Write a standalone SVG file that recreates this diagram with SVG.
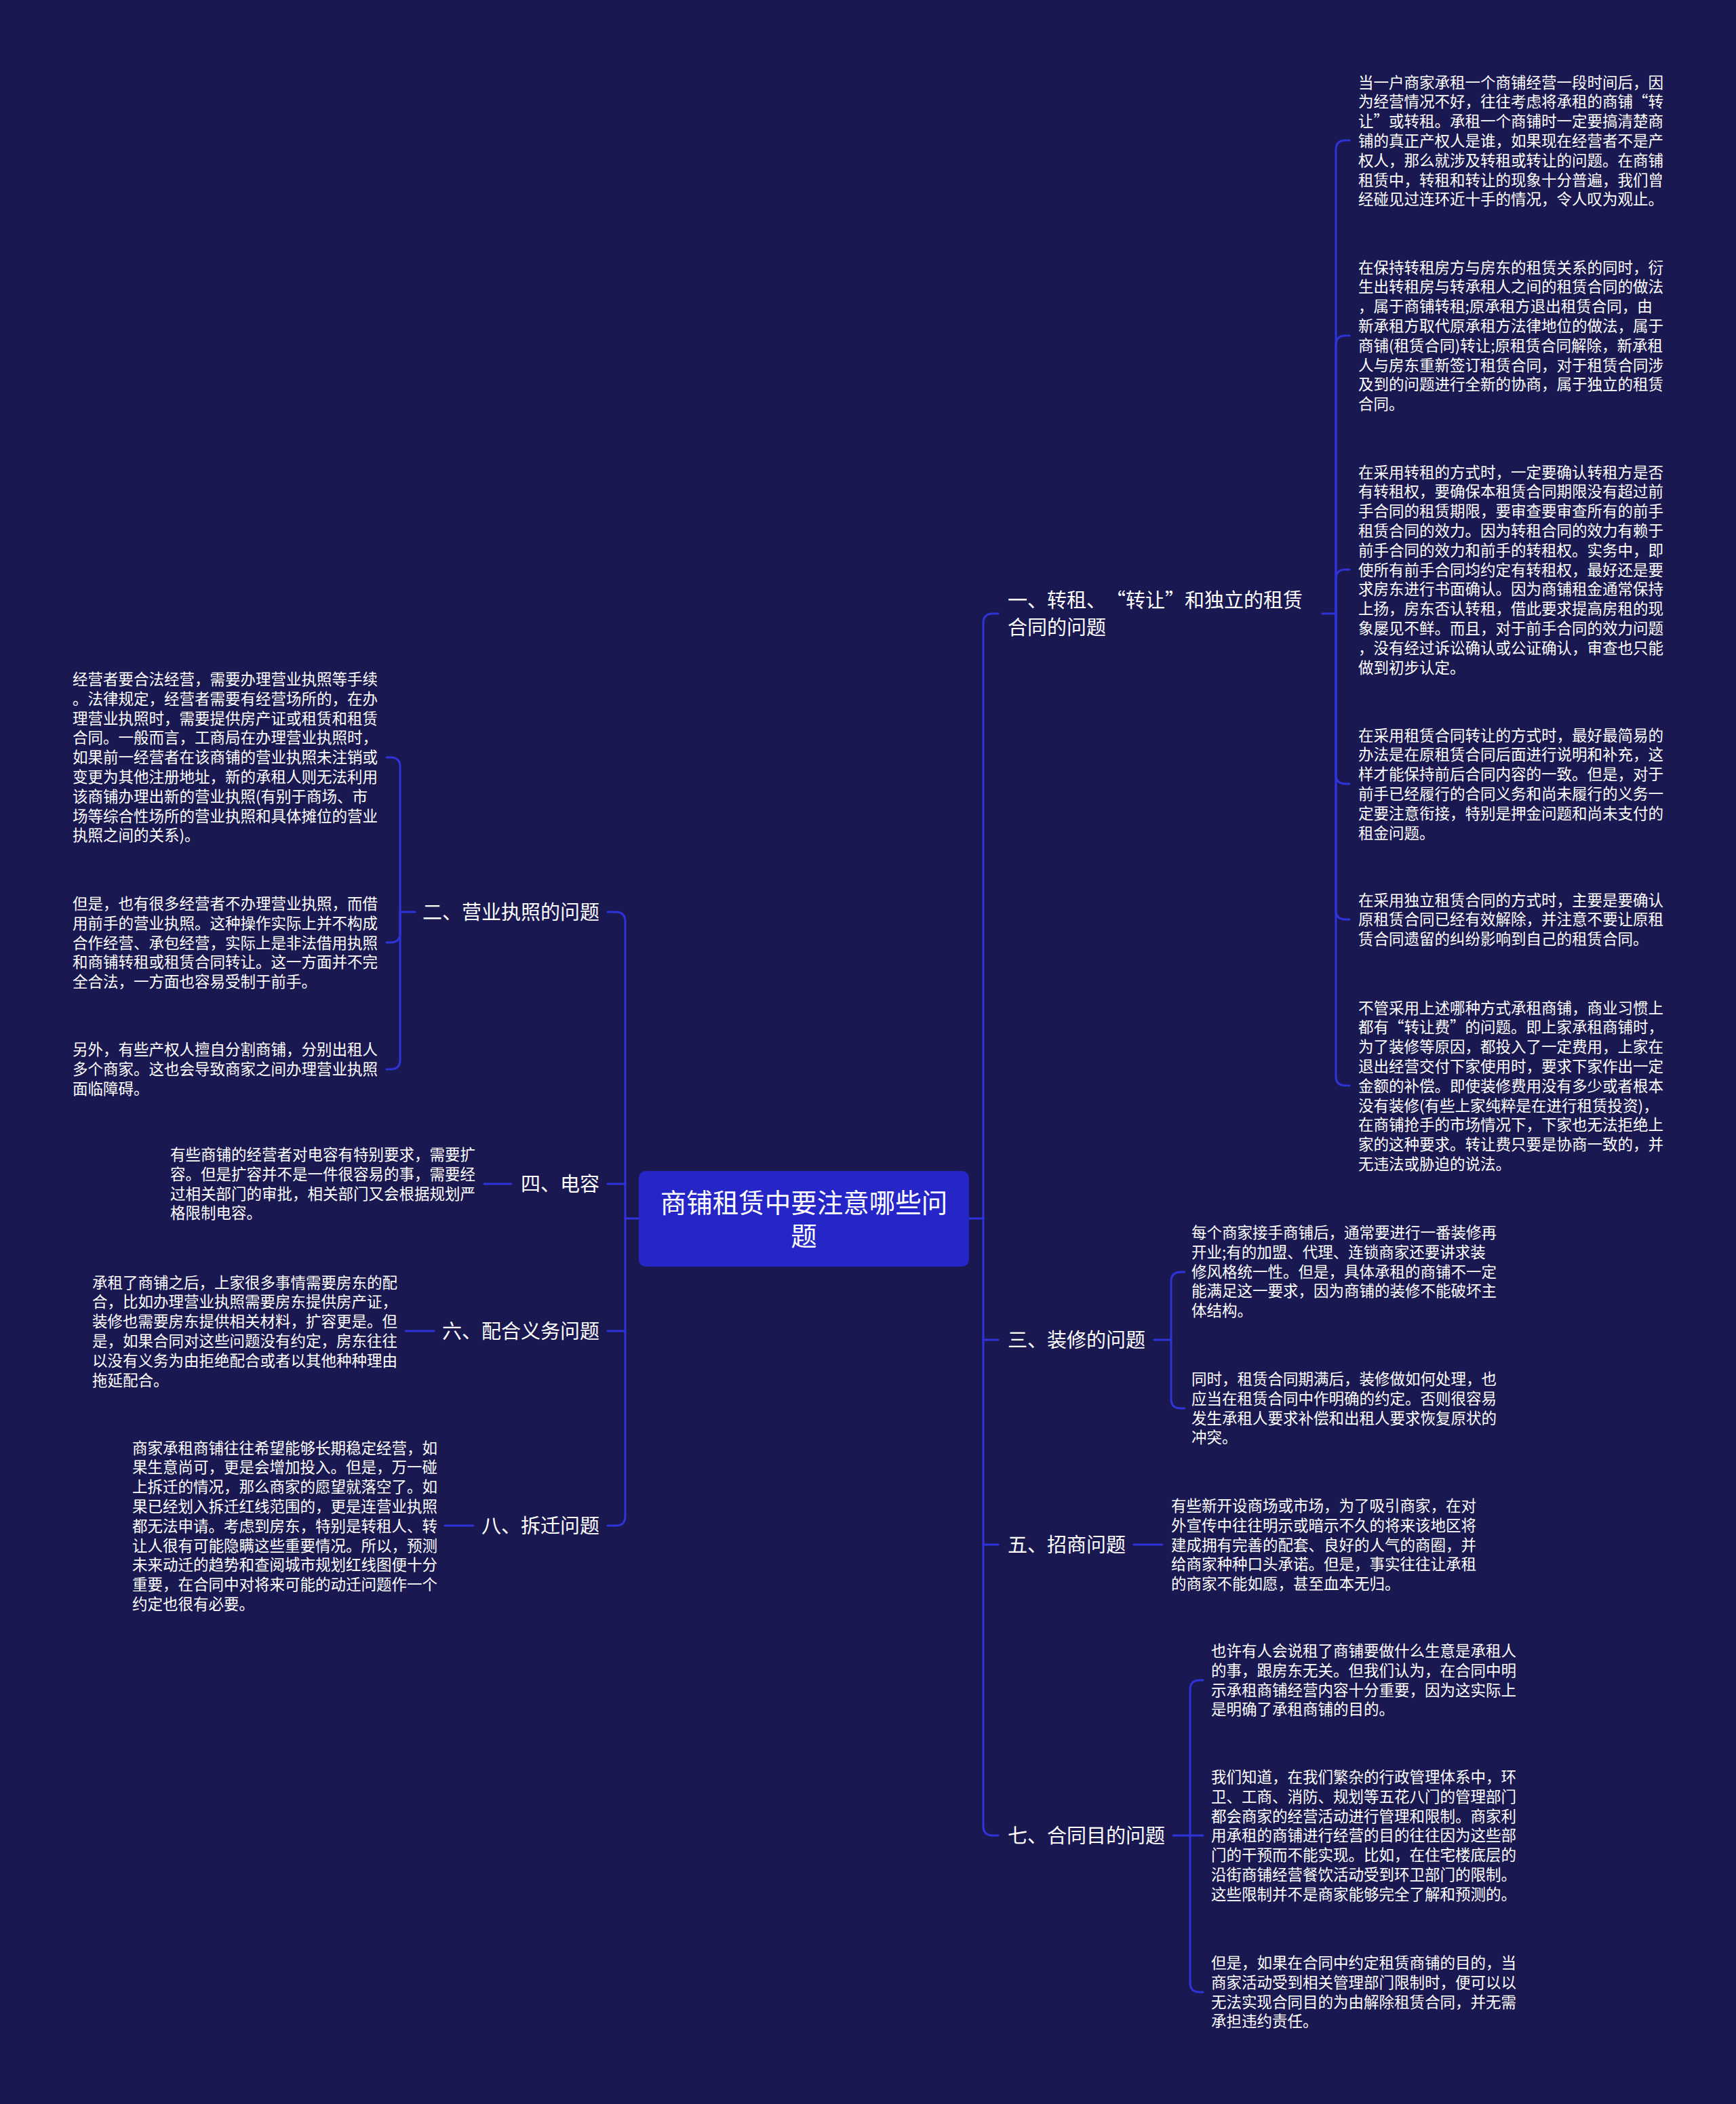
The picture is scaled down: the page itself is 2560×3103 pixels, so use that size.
<svg xmlns="http://www.w3.org/2000/svg" width="2560" height="3103" viewBox="0 0 2560 3103">
<style>
.bg{fill:#1a1850}
.ln{fill:none;stroke:#2f33d9;stroke-width:3;stroke-linecap:round}
.leaf{font-family:"Noto Sans CJK SC","Liberation Sans",sans-serif;font-size:22.5px;fill:#ffffff}
.lbl{font-family:"Noto Sans CJK SC","Liberation Sans",sans-serif;font-size:29px;fill:#ffffff}
.ttl{font-family:"Noto Sans CJK SC","Liberation Sans",sans-serif;font-size:38.5px;fill:#ffffff;text-anchor:middle}
.end{text-anchor:end}
</style>
<rect class="bg" x="0" y="0" width="2560" height="3103"/>
<g id="connectors">
<path class="ln" d="M1429 1797 H1450"/>
<path class="ln" d="M1450 1797 V919 Q1450 905 1464 905 H1472"/>
<path class="ln" d="M1450 1797 V2693 Q1450 2707 1464 2707 H1472"/>
<path class="ln" d="M1450 1976 H1472"/>
<path class="ln" d="M1450 2278 H1472"/>
<path class="ln" d="M1950 905 H1970"/>
<path class="ln" d="M1970 905 V221 Q1970 207 1984 207 H1990"/>
<path class="ln" d="M1970 905 V509 Q1970 495 1984 495 H1990"/>
<path class="ln" d="M1970 905 V854 Q1970 840 1984 840 H1990"/>
<path class="ln" d="M1970 905 V1142 Q1970 1156 1984 1156 H1990"/>
<path class="ln" d="M1970 905 V1342 Q1970 1356 1984 1356 H1990"/>
<path class="ln" d="M1970 905 V1587 Q1970 1601 1984 1601 H1990"/>
<path class="ln" d="M1702 1976 H1727"/>
<path class="ln" d="M1727 1976 V1890 Q1727 1876 1741 1876 H1747"/>
<path class="ln" d="M1727 1976 V2063 Q1727 2077 1741 2077 H1747"/>
<path class="ln" d="M1672 2278 H1714"/>
<path class="ln" d="M1730 2707 H1755"/>
<path class="ln" d="M1755 2707 V2492 Q1755 2478 1769 2478 H1774"/>
<path class="ln" d="M1755 2707 H1774"/>
<path class="ln" d="M1755 2707 V2924 Q1755 2938 1769 2938 H1774"/>
<path class="ln" d="M942 1797 H922"/>
<path class="ln" d="M922 1797 V1359 Q922 1345 908 1345 H896"/>
<path class="ln" d="M922 1797 V2236 Q922 2250 908 2250 H896"/>
<path class="ln" d="M922 1746 H896"/>
<path class="ln" d="M922 1963 H896"/>
<path class="ln" d="M612 1345 H590"/>
<path class="ln" d="M590 1345 V1131 Q590 1117 576 1117 H570"/>
<path class="ln" d="M590 1345 V1376 Q590 1390 576 1390 H570"/>
<path class="ln" d="M590 1345 V1563 Q590 1577 576 1577 H570"/>
<path class="ln" d="M754 1746 H714"/>
<path class="ln" d="M640 1963 H598"/>
<path class="ln" d="M698 2250 H656"/>
</g>
<g id="center">
<rect x="942" y="1727" width="487" height="141" rx="10" fill="#2626c8"/>
<text class="ttl" x="1185.5" y="1788"><tspan x="1185.5">商铺租赁中要注意哪些问</tspan><tspan x="1185.5" dy="49">题</tspan></text>
</g>
<g id="b1">
<text class="lbl" x="1486" y="896"><tspan x="1486">一、转租、</tspan><tspan dx="14.5">“转让”和独立的租赁</tspan><tspan x="1486" dy="40">合同的问题</tspan></text>
</g>
<g id="b1-1"><text class="leaf" x="2003" y="129.5"><tspan x="2003">当一户商家承租一个商铺经营一段时间后，因</tspan><tspan x="2003" dy="28.8">为经营情况不好，往往考虑将承租的商铺“转</tspan><tspan x="2003" dy="28.8">让”或转租。承租一个商铺时一定要搞清楚商</tspan><tspan x="2003" dy="28.8">铺的真正产权人是谁，如果现在经营者不是产</tspan><tspan x="2003" dy="28.8">权人，那么就涉及转租或转让的问题。在商铺</tspan><tspan x="2003" dy="28.8">租赁中，转租和转让的现象十分普遍，我们曾</tspan><tspan x="2003" dy="28.8">经碰见过连环近十手的情况，令人叹为观止。</tspan></text></g>
<g id="b1-2"><text class="leaf" x="2003" y="402.5"><tspan x="2003">在保持转租房方与房东的租赁关系的同时，衍</tspan><tspan x="2003" dy="28.8">生出转租房与转承租人之间的租赁合同的做法</tspan><tspan x="2003" dy="28.8">，属于商铺转租;原承租方退出租赁合同，由</tspan><tspan x="2003" dy="28.8">新承租方取代原承租方法律地位的做法，属于</tspan><tspan x="2003" dy="28.8">商铺(租赁合同)转让;原租赁合同解除，新承租</tspan><tspan x="2003" dy="28.8">人与房东重新签订租赁合同，对于租赁合同涉</tspan><tspan x="2003" dy="28.8">及到的问题进行全新的协商，属于独立的租赁</tspan><tspan x="2003" dy="28.8">合同。</tspan></text></g>
<g id="b1-3"><text class="leaf" x="2003" y="704.5"><tspan x="2003">在采用转租的方式时，一定要确认转租方是否</tspan><tspan x="2003" dy="28.8">有转租权，要确保本租赁合同期限没有超过前</tspan><tspan x="2003" dy="28.8">手合同的租赁期限，要审查要审查所有的前手</tspan><tspan x="2003" dy="28.8">租赁合同的效力。因为转租合同的效力有赖于</tspan><tspan x="2003" dy="28.8">前手合同的效力和前手的转租权。实务中，即</tspan><tspan x="2003" dy="28.8">使所有前手合同均约定有转租权，最好还是要</tspan><tspan x="2003" dy="28.8">求房东进行书面确认。因为商铺租金通常保持</tspan><tspan x="2003" dy="28.8">上扬，房东否认转租，借此要求提高房租的现</tspan><tspan x="2003" dy="28.8">象屡见不鲜。而且，对于前手合同的效力问题</tspan><tspan x="2003" dy="28.8">，没有经过诉讼确认或公证确认，审查也只能</tspan><tspan x="2003" dy="28.8">做到初步认定。</tspan></text></g>
<g id="b1-4"><text class="leaf" x="2003" y="1092.5"><tspan x="2003">在采用租赁合同转让的方式时，最好最简易的</tspan><tspan x="2003" dy="28.8">办法是在原租赁合同后面进行说明和补充，这</tspan><tspan x="2003" dy="28.8">样才能保持前后合同内容的一致。但是，对于</tspan><tspan x="2003" dy="28.8">前手已经履行的合同义务和尚未履行的义务一</tspan><tspan x="2003" dy="28.8">定要注意衔接，特别是押金问题和尚未支付的</tspan><tspan x="2003" dy="28.8">租金问题。</tspan></text></g>
<g id="b1-5"><text class="leaf" x="2003" y="1335.5"><tspan x="2003">在采用独立租赁合同的方式时，主要是要确认</tspan><tspan x="2003" dy="28.8">原租赁合同已经有效解除，并注意不要让原租</tspan><tspan x="2003" dy="28.8">赁合同遗留的纠纷影响到自己的租赁合同。</tspan></text></g>
<g id="b1-6"><text class="leaf" x="2003" y="1494.5"><tspan x="2003">不管采用上述哪种方式承租商铺，商业习惯上</tspan><tspan x="2003" dy="28.8">都有“转让费”的问题。即上家承租商铺时，</tspan><tspan x="2003" dy="28.8">为了装修等原因，都投入了一定费用，上家在</tspan><tspan x="2003" dy="28.8">退出经营交付下家使用时，要求下家作出一定</tspan><tspan x="2003" dy="28.8">金额的补偿。即使装修费用没有多少或者根本</tspan><tspan x="2003" dy="28.8">没有装修(有些上家纯粹是在进行租赁投资)，</tspan><tspan x="2003" dy="28.8">在商铺抢手的市场情况下，下家也无法拒绝上</tspan><tspan x="2003" dy="28.8">家的这种要求。转让费只要是协商一致的，并</tspan><tspan x="2003" dy="28.8">无违法或胁迫的说法。</tspan></text></g>
<g id="b3"><text class="lbl" x="1486" y="1987">三、装修的问题</text></g>
<g id="b3-1"><text class="leaf" x="1757" y="1826"><tspan x="1757">每个商家接手商铺后，通常要进行一番装修再</tspan><tspan x="1757" dy="28.8">开业;有的加盟、代理、连锁商家还要讲求装</tspan><tspan x="1757" dy="28.8">修风格统一性。但是，具体承租的商铺不一定</tspan><tspan x="1757" dy="28.8">能满足这一要求，因为商铺的装修不能破坏主</tspan><tspan x="1757" dy="28.8">体结构。</tspan></text></g>
<g id="b3-2"><text class="leaf" x="1757" y="2042"><tspan x="1757">同时，租赁合同期满后，装修做如何处理，也</tspan><tspan x="1757" dy="28.8">应当在租赁合同中作明确的约定。否则很容易</tspan><tspan x="1757" dy="28.8">发生承租人要求补偿和出租人要求恢复原状的</tspan><tspan x="1757" dy="28.8">冲突。</tspan></text></g>
<g id="b5"><text class="lbl" x="1486" y="2289">五、招商问题</text></g>
<g id="b5-1"><text class="leaf" x="1727" y="2229"><tspan x="1727">有些新开设商场或市场，为了吸引商家，在对</tspan><tspan x="1727" dy="28.8">外宣传中往往明示或暗示不久的将来该地区将</tspan><tspan x="1727" dy="28.8">建成拥有完善的配套、良好的人气的商圈，并</tspan><tspan x="1727" dy="28.8">给商家种种口头承诺。但是，事实往往让承租</tspan><tspan x="1727" dy="28.8">的商家不能如愿，甚至血本无归。</tspan></text></g>
<g id="b7"><text class="lbl" x="1486" y="2718">七、合同目的问题</text></g>
<g id="b7-1"><text class="leaf" x="1786" y="2443"><tspan x="1786">也许有人会说租了商铺要做什么生意是承租人</tspan><tspan x="1786" dy="28.8">的事，跟房东无关。但我们认为，在合同中明</tspan><tspan x="1786" dy="28.8">示承租商铺经营内容十分重要，因为这实际上</tspan><tspan x="1786" dy="28.8">是明确了承租商铺的目的。</tspan></text></g>
<g id="b7-2"><text class="leaf" x="1786" y="2629"><tspan x="1786">我们知道，在我们繁杂的行政管理体系中，环</tspan><tspan x="1786" dy="28.8">卫、工商、消防、规划等五花八门的管理部门</tspan><tspan x="1786" dy="28.8">都会商家的经营活动进行管理和限制。商家利</tspan><tspan x="1786" dy="28.8">用承租的商铺进行经营的目的往往因为这些部</tspan><tspan x="1786" dy="28.8">门的干预而不能实现。比如，在住宅楼底层的</tspan><tspan x="1786" dy="28.8">沿街商铺经营餐饮活动受到环卫部门的限制。</tspan><tspan x="1786" dy="28.8">这些限制并不是商家能够完全了解和预测的。</tspan></text></g>
<g id="b7-3"><text class="leaf" x="1786" y="2903"><tspan x="1786">但是，如果在合同中约定租赁商铺的目的，当</tspan><tspan x="1786" dy="28.8">商家活动受到相关管理部门限制时，便可以以</tspan><tspan x="1786" dy="28.8">无法实现合同目的为由解除租赁合同，并无需</tspan><tspan x="1786" dy="28.8">承担违约责任。</tspan></text></g>
<g id="b2"><text class="lbl end" x="884" y="1356">二、营业执照的问题</text></g>
<g id="b2-1"><text class="leaf" x="107" y="1010"><tspan x="107">经营者要合法经营，需要办理营业执照等手续</tspan><tspan x="107" dy="28.8">。法律规定，经营者需要有经营场所的，在办</tspan><tspan x="107" dy="28.8">理营业执照时，需要提供房产证或租赁和租赁</tspan><tspan x="107" dy="28.8">合同。一般而言，工商局在办理营业执照时，</tspan><tspan x="107" dy="28.8">如果前一经营者在该商铺的营业执照未注销或</tspan><tspan x="107" dy="28.8">变更为其他注册地址，新的承租人则无法利用</tspan><tspan x="107" dy="28.8">该商铺办理出新的营业执照(有别于商场、市</tspan><tspan x="107" dy="28.8">场等综合性场所的营业执照和具体摊位的营业</tspan><tspan x="107" dy="28.8">执照之间的关系)。</tspan></text></g>
<g id="b2-2"><text class="leaf" x="107" y="1341"><tspan x="107">但是，也有很多经营者不办理营业执照，而借</tspan><tspan x="107" dy="28.8">用前手的营业执照。这种操作实际上并不构成</tspan><tspan x="107" dy="28.8">合作经营、承包经营，实际上是非法借用执照</tspan><tspan x="107" dy="28.8">和商铺转租或租赁合同转让。这一方面并不完</tspan><tspan x="107" dy="28.8">全合法，一方面也容易受制于前手。</tspan></text></g>
<g id="b2-3"><text class="leaf" x="107" y="1556"><tspan x="107">另外，有些产权人擅自分割商铺，分别出租人</tspan><tspan x="107" dy="28.8">多个商家。这也会导致商家之间办理营业执照</tspan><tspan x="107" dy="28.8">面临障碍。</tspan></text></g>
<g id="b4"><text class="lbl end" x="884" y="1757">四、电容</text></g>
<g id="b4-1"><text class="leaf" x="251" y="1711"><tspan x="251">有些商铺的经营者对电容有特别要求，需要扩</tspan><tspan x="251" dy="28.8">容。但是扩容并不是一件很容易的事，需要经</tspan><tspan x="251" dy="28.8">过相关部门的审批，相关部门又会根据规划严</tspan><tspan x="251" dy="28.8">格限制电容。</tspan></text></g>
<g id="b6"><text class="lbl end" x="884" y="1974">六、配合义务问题</text></g>
<g id="b6-1"><text class="leaf" x="136" y="1899.5"><tspan x="136">承租了商铺之后，上家很多事情需要房东的配</tspan><tspan x="136" dy="28.8">合，比如办理营业执照需要房东提供房产证，</tspan><tspan x="136" dy="28.8">装修也需要房东提供相关材料，扩容更是。但</tspan><tspan x="136" dy="28.8">是，如果合同对这些问题没有约定，房东往往</tspan><tspan x="136" dy="28.8">以没有义务为由拒绝配合或者以其他种种理由</tspan><tspan x="136" dy="28.8">拖延配合。</tspan></text></g>
<g id="b8"><text class="lbl end" x="884" y="2261">八、拆迁问题</text></g>
<g id="b8-1"><text class="leaf" x="195" y="2143.5"><tspan x="195">商家承租商铺往往希望能够长期稳定经营，如</tspan><tspan x="195" dy="28.8">果生意尚可，更是会增加投入。但是，万一碰</tspan><tspan x="195" dy="28.8">上拆迁的情况，那么商家的愿望就落空了。如</tspan><tspan x="195" dy="28.8">果已经划入拆迁红线范围的，更是连营业执照</tspan><tspan x="195" dy="28.8">都无法申请。考虑到房东，特别是转租人、转</tspan><tspan x="195" dy="28.8">让人很有可能隐瞒这些重要情况。所以，预测</tspan><tspan x="195" dy="28.8">未来动迁的趋势和查阅城市规划红线图便十分</tspan><tspan x="195" dy="28.8">重要，在合同中对将来可能的动迁问题作一个</tspan><tspan x="195" dy="28.8">约定也很有必要。</tspan></text></g>
</svg>
